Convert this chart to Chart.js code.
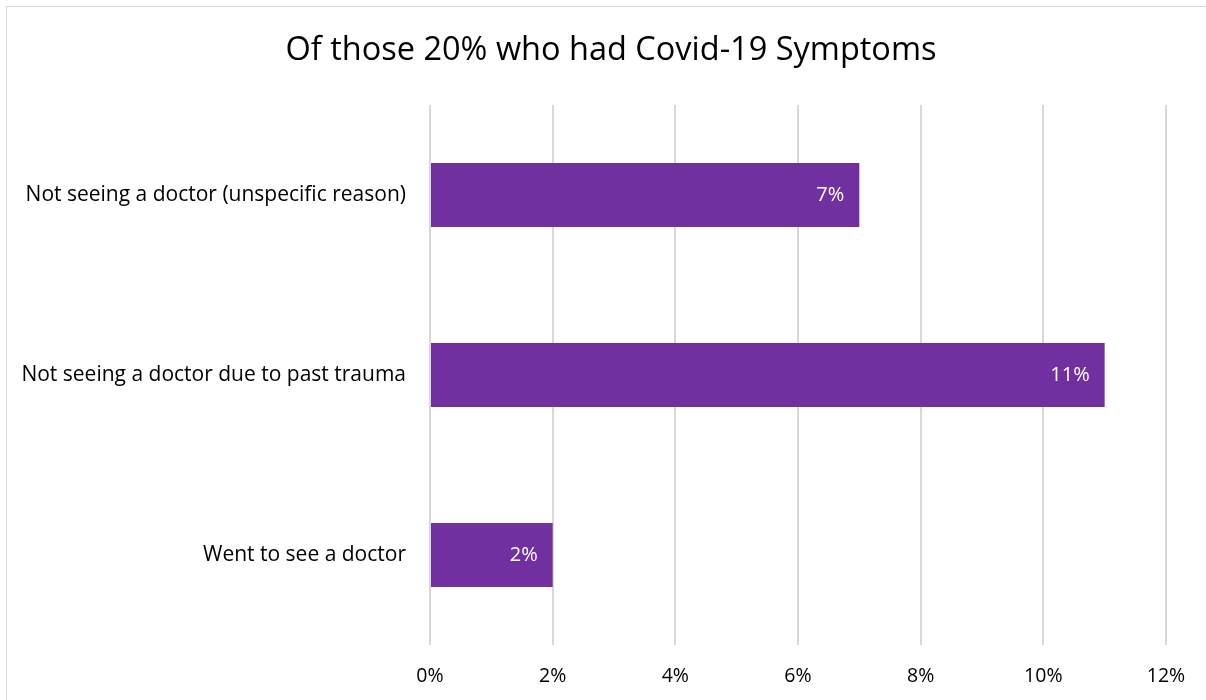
<!DOCTYPE html>
<html>
<head>
<meta charset="utf-8">
<script src="https://cdn.jsdelivr.net/npm/chart.js@4"></script>
<style>
  html, body { margin: 0; padding: 0; background: #fff; }
  #wrap { position: relative; width: 1206px; height: 700px; overflow: hidden; }
  #frame { position: absolute; left: 6px; top: 6px; width: 1220px; height: 720px; border: 1.5px solid #d9d9d9; box-sizing: border-box; pointer-events: none; }
  canvas { position: absolute; left: 0; top: 0; }
</style>
</head>
<body>
<div id="wrap">
  <canvas id="c" width="1206" height="700"></canvas>
  <div id="frame"></div>
</div>
<script>
const titleText = "Of those 20% who had Covid-19 Symptoms";
const categories = [
  "Not seeing a doctor (unspecific reason)",
  "Not seeing a doctor due to past trauma",
  "Went to see a doctor"
];
const values = [7, 11, 2];
const xTicks = [0, 2, 4, 6, 8, 10, 12];

const FONT = "'Open Sans', sans-serif";

const barLabels = {
  id: 'barLabels',
  afterDatasetsDraw(chart) {
    const ctx = chart.ctx;
    const meta = chart.getDatasetMeta(0);
    ctx.save();
    ctx.fillStyle = '#ffffff';
    ctx.font = '20px ' + FONT;
    ctx.textAlign = 'right';
    ctx.textBaseline = 'middle';
    meta.data.forEach((bar, i) => {
      ctx.fillText(values[i] + '%', bar.x - 15, bar.y);
    });
    ctx.restore();
  }
};

new Chart(document.getElementById('c'), {
  type: 'bar',
  data: {
    labels: categories,
    datasets: [{
      data: values,
      backgroundColor: '#7030A0',
      borderWidth: 0,
      categoryPercentage: 1,
      barPercentage: 0.355
    }]
  },
  options: {
    indexAxis: 'y',
    responsive: false,
    animation: false,
    layout: { padding: { left: 56, right: 40, top: 0, bottom: 0 } },
    plugins: {
      legend: { display: false },
      tooltip: { enabled: false },
      title: {
        display: true,
        text: titleText,
        color: '#000000',
        font: { family: FONT, size: 32.5, weight: 'normal' },
        padding: { top: 31, bottom: 35 }
      }
    },
    scales: {
      x: {
        min: 0, max: 12,
        afterBuildTicks(scale) { scale.ticks = xTicks.map(v => ({ value: v })); },
        afterFit(scale) { scale.height = 55; },
        ticks: {
          color: '#000000',
          font: { family: FONT, size: 19.5 },
          padding: 20,
          callback: v => v + '%'
        },
        grid: { color: '#d9d9d9', lineWidth: 2, drawTicks: false },
        border: { display: false }
      },
      y: {
        afterFit(scale) {
          scale.width = 374;
          scale._computeLabelArea = function () { return undefined; };
        },
        ticks: {
          color: '#000000',
          font: { family: FONT, size: 21 },
          padding: 16
        },
        grid: { display: false },
        border: { display: false }
      }
    }
  },
  plugins: [barLabels]
});
</script>
</body>
</html>
